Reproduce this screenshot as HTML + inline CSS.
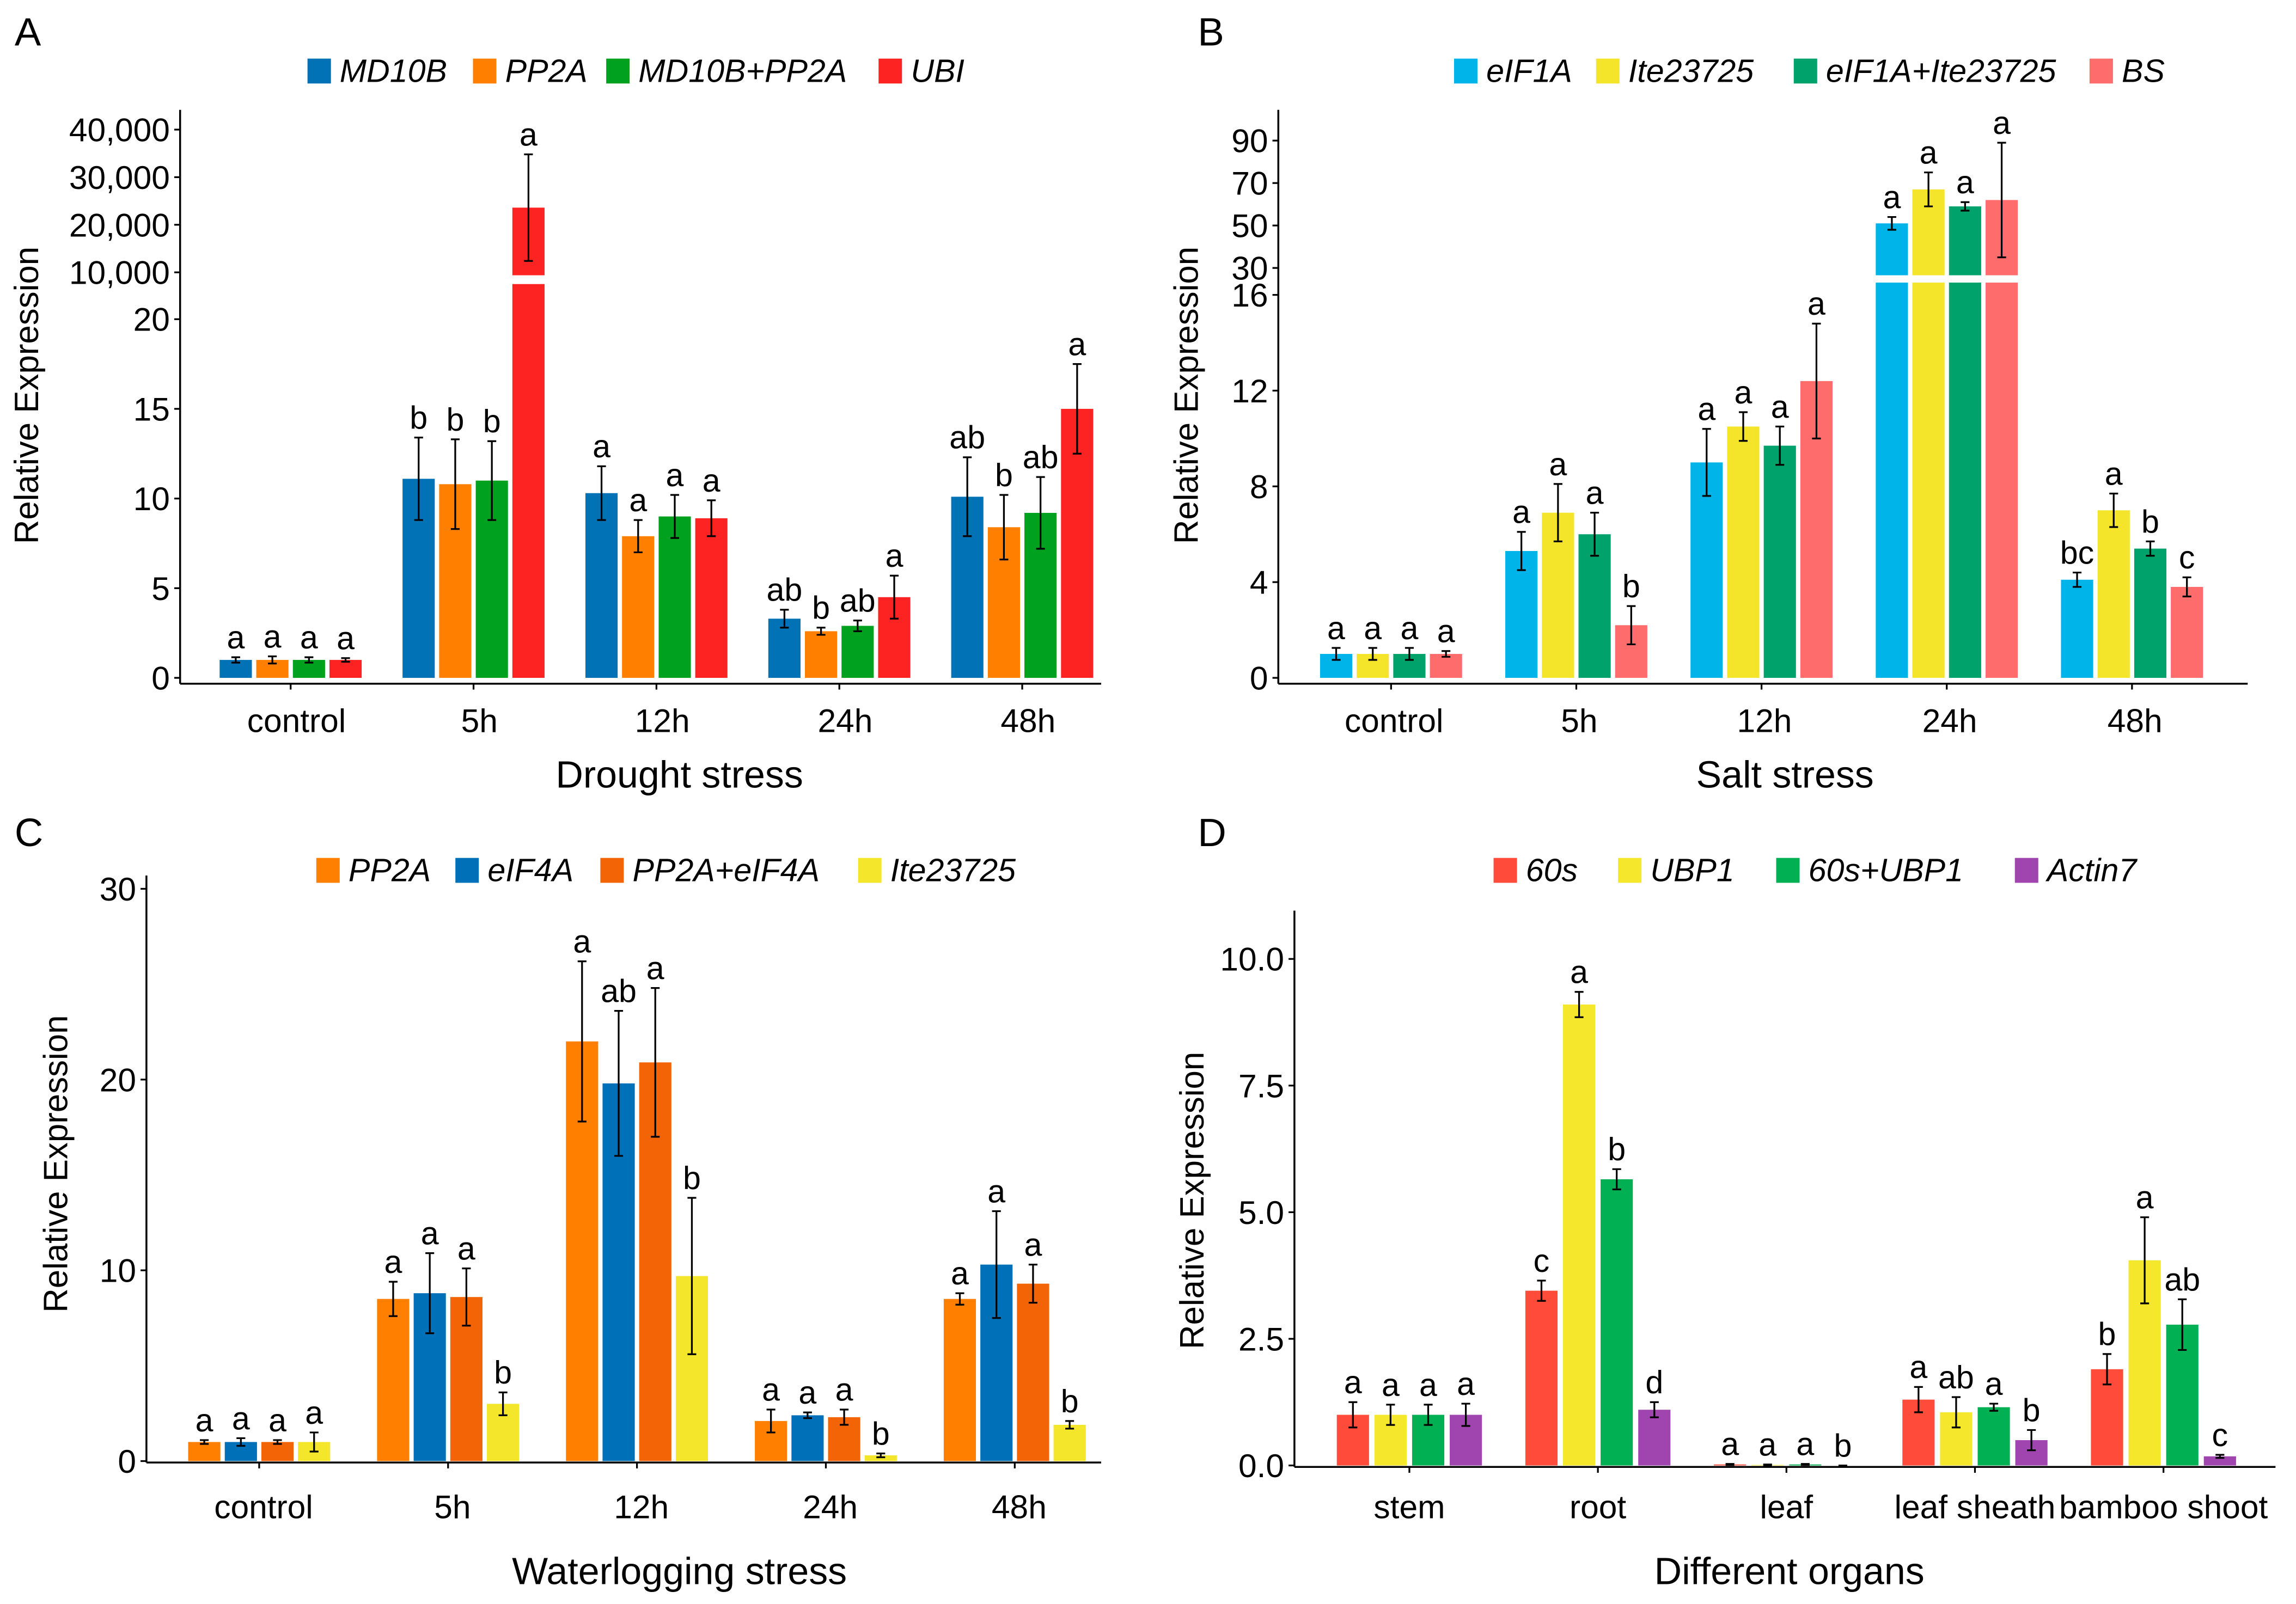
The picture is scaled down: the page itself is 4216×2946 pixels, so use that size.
<!DOCTYPE html>
<html><head><meta charset="utf-8"><style>
html,body{margin:0;padding:0;background:#fff}
svg{display:block}
text{font-family:"Liberation Sans",Arial,sans-serif;fill:#000}
</style></head><body>
<svg id="fig" xmlns="http://www.w3.org/2000/svg" width="4216" height="2946" viewBox="0 0 1568 1095.6">
<rect width="1568" height="1096" fill="#fff"/>
</svg>
<script>
// ---------- Panel A data ----------
const aCategories = ["control","5h","12h","24h","48h"];
const aSeries = ["MD10B","PP2A","MD10B+PP2A","UBI"];
const aValues = [[1,11.1,10.3,3.3,10.1],[1,10.8,7.9,2.6,8.4],[1,11.0,9.0,2.9,9.2],[1,23600,8.9,4.5,15.0]];
const aErrors = [[0.15,2.3,1.5,0.5,2.2],[0.2,2.5,0.9,0.2,1.8],[0.15,2.2,1.2,0.3,2.0],[0.1,11200,1.0,1.2,2.5]];
const aLetters = [["a","b","a","ab","ab"],["a","b","a","b","b"],["a","b","a","ab","ab"],["a","a","a","a","a"]];
const aLowTicks = [0,5,10,15,20];
const aHighTicks = [10000,20000,30000,40000];
const aHighTickLabels = ["10,000","20,000","30,000","40,000"];
// ---------- Panel B data ----------
const bCategories = ["control","5h","12h","24h","48h"];
const bSeries = ["eIF1A","Ite23725","eIF1A+Ite23725","BS"];
const bValues = [[1,5.3,9.0,51,4.1],[1,6.9,10.5,67,7.0],[1,6.0,9.7,59,5.4],[1,2.2,12.4,62,3.8]];
const bErrors = [[0.25,0.8,1.4,3,0.3],[0.25,1.2,0.6,8,0.7],[0.25,0.9,0.8,2,0.3],[0.12,0.8,2.4,27,0.4]];
const bLetters = [["a","a","a","a","bc"],["a","a","a","a","a"],["a","a","a","a","b"],["a","b","a","a","c"]];
const bLowTicks = [0,4,8,12,16];
const bHighTicks = [30,50,70,90];
const bHighTickLabels = ["30","50","70","90"];
// ---------- Panel C data ----------
const cCategories = ["control","5h","12h","24h","48h"];
const cSeries = ["PP2A","eIF4A","PP2A+eIF4A","Ite23725"];
const cValues = [[1,8.5,22.0,2.1,8.5],[1,8.8,19.8,2.4,10.3],[1,8.6,20.9,2.3,9.3],[1,3.0,9.7,0.3,1.9]];
const cErrors = [[0.1,0.9,4.2,0.6,0.3],[0.2,2.1,3.8,0.15,2.8],[0.1,1.5,3.9,0.4,1.0],[0.5,0.6,4.1,0.1,0.2]];
const cLetters = [["a","a","a","a","a"],["a","a","ab","a","a"],["a","a","a","a","a"],["a","b","b","b","b"]];
const cTicks = [0,10,20,30];
// ---------- Panel D data ----------
const dCategories = ["stem","root","leaf","leaf sheath","bamboo shoot"];
const dSeries = ["60s","UBP1","60s+UBP1","Actin7"];
const dValues = [[1,3.45,0.02,1.3,1.9],[1,9.1,0.01,1.05,4.05],[1,5.65,0.02,1.15,2.78],[1,1.1,0.0,0.5,0.18]];
const dErrors = [[0.25,0.2,0.01,0.25,0.3],[0.2,0.25,0.01,0.3,0.85],[0.2,0.2,0.01,0.07,0.5],[0.22,0.15,0.0,0.2,0.03]];
const dLetters = [["a","c","a","a","b"],["a","a","a","ab","a"],["a","b","a","a","ab"],["a","d","b","b","c"]];
const dTicks = [0,2.5,5,7.5,10];
const dTickLabels = ["0.0","2.5","5.0","7.5","10.0"];

const NS="http://www.w3.org/2000/svg";
const svg=document.getElementById('fig');
function mk(tag,attrs,parent){const e=document.createElementNS(NS,tag);for(const k in attrs)e.setAttribute(k,attrs[k]);(parent||svg).appendChild(e);return e;}
function txt(s,x,y,size,anchor,parent,extra){const t=mk('text',Object.assign({x:x,y:y,'font-size':size,'text-anchor':anchor||'middle'},extra||{}),parent);t.textContent=s;return t;}

function panel(P){
  const g=mk('g',{});
  
  
  const L=txt(P.letter,P.letterX,P.letterY,27,'start',g);
  
  
  P.series.forEach((s,i)=>{
    const sw=mk('rect',{x:P.legX[i],y:P.legY-16,width:16,height:17,fill:P.colors[i]},g);
    
    
    const t=txt(s,P.legX[i]+22,P.legY,22,'start',g,{'font-style':'italic'});
    
    
  });
  const y=P.y;
  const xOf=(ci,si)=>P.x0+ci*P.gstep+(si-1.5)*P.bstep;
  P.values.forEach((ser,si)=>{
    ser.forEach((v,ci)=>{
      const cx=xOf(ci,si), w=P.bw;
      const top=y(v);
      if(P.broken && v>P.lowMax){
        const r1=mk('rect',{x:cx-w/2,y:P.lowTopPx,width:w,height:P.zeroPx-P.lowTopPx,fill:P.colors[si]},g);
        
        
        const r2=mk('rect',{x:cx-w/2,y:top,width:w,height:Math.max(0,P.highBotPx-top),fill:P.colors[si]},g);
        
        
      } else {
        const r=mk('rect',{x:cx-w/2,y:top,width:w,height:Math.max(0,P.zeroPx-top),fill:P.colors[si]},g);
        
        
      }
      const e=P.errors[si][ci];
      const yt=y(v+e), yb=y(Math.max(0,v-e));
      const eb=mk('path',{d:`M${cx},${yt}V${yb}M${cx-3},${yt}H${cx+3}M${cx-3},${yb}H${cx+3}`,stroke:'#000','stroke-width':1.2,fill:'none'},g);
      
      
      const lt=txt(P.letters[si][ci],cx,Math.min(yt,top)-6,22,'middle',g);
      
      
    });
  });
  const ya=mk('line',{x1:P.axX,y1:P.axTop,x2:P.axX,y2:P.axisY,stroke:'#000','stroke-width':1.3},g);
  
  
  const xa=mk('line',{x1:P.axX,y1:P.axisY,x2:P.axRight,y2:P.axisY,stroke:'#000','stroke-width':1.3},g);
  
  
  P.ticks.forEach((tv,i)=>{
    const py=y(tv);
    mk('line',{x1:P.axX-4,y1:py,x2:P.axX,y2:py,stroke:'#000','stroke-width':1.2},g);
    const t=txt(P.tickLabels[i],P.axX-7,py+8,22.5,'end',g);
    
    
  });
  P.categories.forEach((c,ci)=>{
    const cx=P.x0+ci*P.gstep;
    mk('line',{x1:cx,y1:P.axisY,x2:cx,y2:P.axisY+4,stroke:'#000','stroke-width':1.2},g);
    const t=txt(c,cx+P.labShift,P.catY,22.5,'middle',g);
    
    
  });
  const xt=txt(P.xTitle,P.xTitleX,P.xTitleY,26,'middle',g);
  
  
  const yt=txt('Relative Expression',0,0,23,'middle',g,{transform:`translate(${P.yTitleX},${P.yTitleY}) rotate(-90)`});
  
  
}

(function(){
  const zero=463, lowS=12.25, lowTop=194, hiBot=188, hiS=97.5/30000;
  panel({name:'drought',letter:'A',letterX:10,letterY:31,series:aSeries,categories:aCategories,values:aValues,errors:aErrors,letters:aLetters,
    colors:['#0072b5','#ff8000','#00a11f','#fe2323'],legX:[210,323,414,600],legY:56,
    broken:true,lowMax:22,lowTopPx:lowTop,highBotPx:hiBot,zeroPx:zero,
    y:v=>v<=22?zero-v*lowS:186-(v-10000)*hiS,
    x0:198.5,gstep:124.9,bstep:25,bw:22,axX:123,axTop:75,axisY:467,axRight:752,
    ticks:aLowTicks.concat(aHighTicks),tickLabels:aLowTicks.map(String).concat(aHighTickLabels),
    catY:500,labShift:4,xTitle:'Drought stress',xTitleX:464,xTitleY:538,yTitleX:26,yTitleY:270});
})();
(function(){
  const zero=463, lowS=16.35, hiS=1.45;
  panel({name:'salt',letter:'B',letterX:818,letterY:31,series:bSeries,categories:bCategories,values:bValues,errors:bErrors,letters:bLetters,
    colors:['#00b4ea','#f4e52b','#00a26b','#ff6c6c'],legX:[993,1090,1225,1427],legY:56,
    broken:true,lowMax:16.5,lowTopPx:193,highBotPx:188,zeroPx:zero,
    y:v=>v<=16.5?zero-v*lowS:183-(v-30)*hiS,
    x0:950,gstep:126.5,bstep:25,bw:22,axX:873,axTop:75,axisY:467,axRight:1535,
    ticks:bLowTicks.concat(bHighTicks),tickLabels:bLowTicks.map(String).concat(bHighTickLabels),
    catY:500,labShift:2,xTitle:'Salt stress',xTitleX:1219,xTitleY:538,yTitleX:818,yTitleY:270});
})();
(function(){
  const zero=998, s=13.03;
  panel({name:'waterlogging',letter:'C',letterX:10,letterY:578,series:cSeries,categories:cCategories,values:cValues,errors:cErrors,letters:cLetters,
    colors:['#ff8000','#0071b8','#f26405','#f4e72b'],legX:[216,311,410,586],legY:602,
    broken:false,zeroPx:zero,y:v=>zero-v*s,
    x0:177,gstep:129,bstep:25,bw:22,axX:100,axTop:598,axisY:999,axRight:752,
    ticks:cTicks,tickLabels:cTicks.map(String),
    catY:1037,labShift:3,xTitle:'Waterlogging stress',xTitleX:464,xTitleY:1082,yTitleX:46,yTitleY:795});
})();
(function(){
  const zero=1001, s=34.6;
  panel({name:'organs',letter:'D',letterX:818,letterY:578,series:dSeries,categories:dCategories,values:dValues,errors:dErrors,letters:dLetters,
    colors:['#ff4b3a','#f5e72b','#00b052','#a044b0'],legX:[1020,1105,1213,1376],legY:602,
    broken:false,zeroPx:zero,y:v=>zero-v*s,
    x0:962.5,gstep:128.75,bstep:25.7,bw:22,axX:884,axTop:622,axisY:1002,axRight:1554,
    ticks:dTicks,tickLabels:dTickLabels,
    catY:1037,labShift:0,xTitle:'Different organs',xTitleX:1222,xTitleY:1082,yTitleX:822,yTitleY:820});
})();
</script>
</body></html>
